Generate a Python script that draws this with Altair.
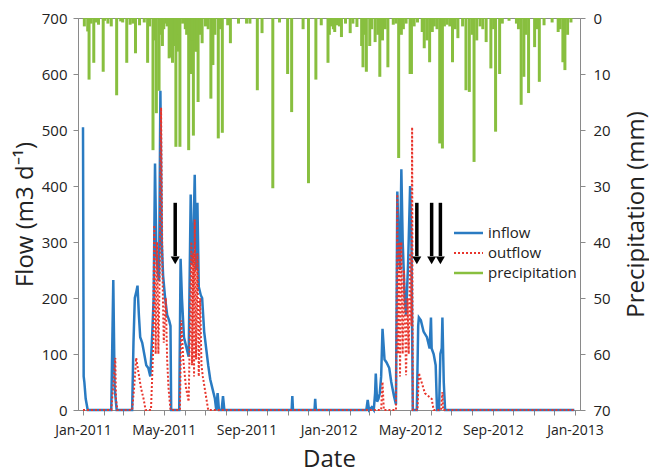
import altair as alt
import pandas as pd

# ---------------- data ----------------
inflow_dates = [
    "2011-01-01", "2011-01-02", "2011-01-03", "2011-01-05", "2011-01-08",
    "2011-02-12", "2011-02-15", "2011-02-17", "2011-02-20",
    "2011-03-15", "2011-03-17", "2011-03-19", "2011-03-21", "2011-03-23", "2011-03-25",
    "2011-03-27", "2011-03-30", "2011-04-02", "2011-04-05", "2011-04-08", "2011-04-11",
    "2011-04-14", "2011-04-16", "2011-04-18", "2011-04-20", "2011-04-22", "2011-04-24",
    "2011-04-26", "2011-04-28", "2011-04-30", "2011-05-03", "2011-05-06", "2011-05-09",
    "2011-05-11", "2011-05-12", "2011-05-24", "2011-05-26", "2011-05-28", "2011-05-31",
    "2011-06-04", "2011-06-07", "2011-06-10", "2011-06-12", "2011-06-14", "2011-06-16",
    "2011-06-18", "2011-06-20", "2011-06-22", "2011-06-25", "2011-06-27", "2011-06-30",
    "2011-07-03", "2011-07-06", "2011-07-09", "2011-07-12", "2011-07-16", "2011-07-18",
    "2011-07-20", "2011-07-22", "2011-07-26", "2011-07-28", "2011-07-30",
    "2011-11-07", "2011-11-08", "2011-11-09", "2011-12-11", "2011-12-12", "2011-12-13",
    "2012-02-26", "2012-02-28", "2012-03-01", "2012-03-05", "2012-03-08", "2012-03-10",
    "2012-03-11", "2012-03-13", "2012-03-15", "2012-03-17", "2012-03-19", "2012-03-21",
    "2012-03-24", "2012-03-27", "2012-03-31", "2012-04-03", "2012-04-07", "2012-04-10",
    "2012-04-12", "2012-04-14", "2012-04-16", "2012-04-18", "2012-04-20", "2012-04-23",
    "2012-04-25", "2012-04-28", "2012-05-01", "2012-05-03", "2012-05-05", "2012-05-11",
    "2012-05-13", "2012-05-14", "2012-05-17", "2012-05-21", "2012-05-26", "2012-05-30",
    "2012-06-01", "2012-06-02", "2012-06-05", "2012-06-08", "2012-06-10", "2012-06-13",
    "2012-06-15", "2012-06-17", "2012-06-18", "2012-06-20", "2012-06-22", "2012-12-31",
]
inflow_values = [
    505, 60, 50, 20, 0,
    0, 232, 40, 0,
    0, 120, 200, 210, 222, 170,
    130, 120, 100, 80, 75, 60,
    140, 200, 440, 280, 250, 230,
    570, 300, 240, 200, 170, 160,
    150, 0, 0, 270, 200, 130,
    110, 95, 385, 260, 300, 420,
    250, 370, 220, 205, 200, 140,
    110, 80, 55, 40, 20, 0,
    30, 0, 0, 25, 0,
    0, 25, 0, 0, 20, 0,
    0, 18, 0, 5, 0, 30,
    65, 15, 20, 30, 60, 145,
    90, 85, 75, 50, 25, 10,
    390, 300, 250, 430, 300, 200,
    170, 260, 400, 300, 0, 0,
    150, 165, 160, 140, 130, 110,
    165, 110, 100, 80, 0, 0,
    100, 110, 165, 50, 0, 0,
]

outflow_dates = [
    "2011-01-01", "2011-02-12", "2011-02-14", "2011-02-16", "2011-02-18", "2011-02-19",
    "2011-02-21", "2011-03-15", "2011-03-18", "2011-03-21", "2011-03-24", "2011-03-28",
    "2011-04-01", "2011-04-04", "2011-04-12", "2011-04-15", "2011-04-17", "2011-04-19",
    "2011-04-21", "2011-04-23", "2011-04-25", "2011-04-27", "2011-04-29", "2011-05-01",
    "2011-05-04", "2011-05-06", "2011-05-08", "2011-05-11", "2011-05-25", "2011-05-27",
    "2011-05-30", "2011-06-03", "2011-06-07", "2011-06-09", "2011-06-11", "2011-06-12",
    "2011-06-14", "2011-06-15", "2011-06-16", "2011-06-18", "2011-06-20", "2011-06-22",
    "2011-06-24", "2011-06-26", "2011-06-28", "2011-07-02", "2011-07-06",
    "2012-03-19", "2012-03-21", "2012-03-23", "2012-04-10", "2012-04-12", "2012-04-13",
    "2012-04-15", "2012-04-16", "2012-04-18", "2012-04-20", "2012-04-22", "2012-04-25",
    "2012-04-27", "2012-04-29", "2012-05-01", "2012-05-03", "2012-05-04", "2012-05-05",
    "2012-05-12", "2012-05-14", "2012-05-18", "2012-05-23", "2012-05-28", "2012-06-02",
    "2012-06-05", "2012-06-16", "2012-06-18", "2012-06-19", "2012-12-31",
]
outflow_values = [
    0, 0, 30, 60, 93, 20,
    0, 0, 40, 93, 70, 40,
    20, 0, 0, 100, 330, 100,
    300, 100, 250, 540, 250, 120,
    200, 90, 40, 0, 0, 160,
    90, 40, 15, 150, 300, 80,
    280, 60, 340, 90, 280, 60,
    200, 80, 60, 30, 0,
    0, 50, 0, 0, 385, 100,
    300, 60, 300, 100, 250, 62,
    200, 100, 280, 150, 505, 0,
    0, 66, 50, 30, 25, 20,
    0, 0, 32, 0, 0,
]

precip_dates = [
    "2011-01-03", "2011-01-08", "2011-01-10", "2011-01-13", "2011-01-17", "2011-01-24",
    "2011-01-31", "2011-02-07", "2011-02-12", "2011-02-20", "2011-03-01", "2011-03-07",
    "2011-03-12", "2011-03-16", "2011-03-20", "2011-03-26", "2011-04-02", "2011-04-07",
    "2011-04-15", "2011-04-17", "2011-04-20", "2011-04-24", "2011-04-29", "2011-05-03",
    "2011-05-06", "2011-05-09", "2011-05-12", "2011-05-14", "2011-05-16", "2011-05-19",
    "2011-05-22", "2011-05-25", "2011-05-29", "2011-06-02", "2011-06-04", "2011-06-07",
    "2011-06-10", "2011-06-14", "2011-06-17", "2011-06-21", "2011-06-24", "2011-06-27",
    "2011-07-02", "2011-07-06", "2011-07-10", "2011-07-13", "2011-07-21", "2011-07-27",
    "2011-08-04", "2011-08-08", "2011-08-20", "2011-09-01", "2011-09-06", "2011-09-17",
    "2011-09-24", "2011-10-10", "2011-10-20", "2011-11-01", "2011-11-07", "2011-11-24",
    "2011-12-02", "2011-12-13", "2011-12-21", "2011-12-31",
    "2012-01-05", "2012-01-10", "2012-01-14", "2012-01-20", "2012-01-26", "2012-02-02",
    "2012-02-12", "2012-02-19", "2012-02-21", "2012-02-26", "2012-03-02", "2012-03-10",
    "2012-03-17", "2012-03-21", "2012-03-29", "2012-04-06", "2012-04-14", "2012-04-18",
    "2012-04-25", "2012-05-01", "2012-05-03", "2012-05-12", "2012-05-22", "2012-05-26",
    "2012-05-30", "2012-06-03", "2012-06-06", "2012-06-14", "2012-06-18", "2012-06-25",
    "2012-06-29", "2012-07-03", "2012-07-11", "2012-07-23", "2012-07-28", "2012-08-04",
    "2012-08-08", "2012-08-13", "2012-08-22", "2012-08-29", "2012-09-05", "2012-09-11",
    "2012-09-15", "2012-09-25", "2012-10-06", "2012-10-13", "2012-10-17", "2012-10-24",
    "2012-11-02", "2012-11-09", "2012-11-16", "2012-11-28", "2012-12-07", "2012-12-14",
    "2012-12-17", "2012-12-26",
    # smaller showers
    "2011-01-20", "2011-02-02", "2011-02-26", "2011-04-10", "2011-04-26", "2011-05-01",
    "2011-05-18", "2011-05-24", "2011-06-12", "2011-06-19", "2011-07-16", "2011-07-24",
    "2012-01-02", "2012-01-08", "2012-01-17", "2012-02-06", "2012-02-24", "2012-03-05",
    "2012-03-14", "2012-03-25", "2012-04-10", "2012-04-21", "2012-05-07", "2012-05-19",
    "2012-06-10", "2012-06-21", "2012-07-07", "2012-07-18", "2012-08-01", "2012-08-17",
    "2012-09-02", "2012-10-09", "2012-10-20", "2012-11-05", "2012-12-10", "2012-12-21",
]
precip_values = [
    1.5, 2.4, 11, 1.0, 8, 1.2,
    9.6, 1.0, 1.5, 13.8, 0.8, 8,
    1.2, 1.0, 6.3, 1.3, 0.8, 8,
    23.6, 4, 17, 13, 5, 1.0,
    1.5, 7.2, 7, 8, 4, 23,
    6, 23, 1.0, 2, 3, 23.6,
    10, 21, 6, 15, 3, 4.5,
    1.5, 2, 14.4, 8.4, 21.5, 20.5,
    1.3, 4.5, 1.0, 1.0, 1.0, 12.9,
    2.7, 30.4, 0.8, 10, 16.8, 2,
    29.5, 11, 1.3, 8,
    1.5, 2.5, 1.3, 3.4, 1.0, 2.7,
    1.6, 5, 8.8, 9.6, 5, 4.3,
    10.5, 4, 8.8, 1.2, 25, 3,
    1, 10, 10, 0.8, 5.4, 4,
    7.9, 2.5, 1.5, 22.4, 23.3, 1.2,
    1.5, 7.9, 3.6, 12.9, 13.2, 25.7,
    4, 1.5, 4.3, 9, 20.3, 10,
    1.0, 0.5, 1.0, 15.5, 10.5, 13.4,
    5.2, 11.4, 1.3, 0.8, 2.5, 7.9,
    9.3, 0.8,
    0.8, 0.5, 0.6, 1.5, 3, 2,
    5, 3, 4, 6, 3, 2,
    3, 2, 1.5, 1, 3, 2,
    3, 2, 1, 2, 1.5, 2.5,
    2, 1.5, 2, 1.5, 3, 2,
    2, 2, 3, 2, 2, 3,
]

arrow_dates = ["2011-05-18", "2012-05-11", "2012-06-02", "2012-06-15"]
arrow_top = [370, 370, 370, 370]
arrow_end = [275, 275, 275, 275]
arrow_head = [267, 267, 267, 267]

legend_labels = ["inflow", "outflow", "precipitation"]
series_colors = ["#2a7bc2", "#e8352c", "#88bf3f"]

# ---------------- frames ----------------
inflow_df = pd.DataFrame({"date": pd.to_datetime(inflow_dates), "flow": inflow_values})
outflow_df = pd.DataFrame({"date": pd.to_datetime(outflow_dates), "flow": outflow_values})
precip_df = pd.DataFrame({"date": pd.to_datetime(precip_dates), "mm": precip_values})
arrow_df = pd.DataFrame({"date": pd.to_datetime(arrow_dates), "top": arrow_top,
                         "end": arrow_end, "head": arrow_head})

FONT = "Open Sans"
TXT = "#222222"
AX = "#8a8a8a"

month_vals = [alt.DateTime(year=2011 + (m // 12), month=(m % 12) + 1, date=1) for m in range(25)]
xscale = alt.Scale(domain=[alt.DateTime(year=2011, month=1, date=1),
                           alt.DateTime(year=2013, month=1, date=1)], nice=False)
xaxis = alt.Axis(
    title="Date", values=month_vals,
    labelExpr="month(datum.value) % 4 == 0 ? timeFormat(datum.value, '%b-%Y') : ''",
    labelOverlap=False, grid=False, tickSize=5, labelPadding=8,
    labelFontSize=14, titleFontSize=24, titlePadding=10,
)
flow_scale = alt.Scale(domain=[0, 700], nice=False)
flow_axis = alt.Axis(title="Flow (m3 d\u207B\u00B9)", orient="left", values=list(range(0, 701, 100)),
                     grid=False, tickSize=5, labelPadding=6, labelFontSize=15,
                     titleFontSize=24, titlePadding=4)
precip_axis = alt.Axis(title="Precipitation (mm)", orient="right", values=list(range(0, 71, 10)),
                       grid=False, tickSize=5, labelPadding=8, labelFontSize=15,
                       titleFontSize=24, titlePadding=14, titleAngle=270, titleBaseline="top")

X = alt.X("date:T", scale=xscale, axis=xaxis)

bars = alt.Chart(precip_df).mark_bar(color=series_colors[2], width=3).encode(
    x=X,
    y=alt.Y("mm:Q", scale=alt.Scale(domain=[0, 70], reverse=True, nice=False), axis=precip_axis),
)

inflow = alt.Chart(inflow_df).mark_line(color=series_colors[0], strokeWidth=2.5).encode(
    x=X, y=alt.Y("flow:Q", scale=flow_scale, axis=flow_axis))
outflow = alt.Chart(outflow_df).mark_line(color=series_colors[1], strokeWidth=2,
                                          strokeDash=[2, 2]).encode(
    x=X, y=alt.Y("flow:Q", scale=flow_scale, axis=flow_axis))
arrows = alt.Chart(arrow_df).mark_rule(color="black", strokeWidth=3.5).encode(
    x=X, y=alt.Y("top:Q", scale=flow_scale, axis=flow_axis), y2="end:Q")
heads = alt.Chart(arrow_df).mark_point(shape="triangle-down", filled=True, size=80,
                                       color="black", opacity=1).encode(
    x=X, y=alt.Y("head:Q", scale=flow_scale, axis=flow_axis))

flow_layer = alt.layer(inflow, outflow, arrows, heads)

# manual legend
leg_layers = []
for i, (lab, col) in enumerate(zip(legend_labels, series_colors)):
    ypix = 215 + 20 * i
    d = pd.DataFrame({"t": [lab]})
    kw = dict(color=col, strokeWidth=2.5 if i != 1 else 2)
    if i == 1:
        kw["strokeDash"] = [2, 2]
    leg_layers.append(alt.Chart(d).mark_rule(**kw).encode(
        x=alt.value(376), x2=alt.value(405), y=alt.value(ypix)))
    leg_layers.append(alt.Chart(d).mark_text(align="left", baseline="middle", fontSize=15,
                                             color=TXT, font=FONT).encode(
        x=alt.value(410), y=alt.value(ypix), text="t:N"))

chart = alt.layer(bars, flow_layer, *leg_layers).resolve_scale(y="independent").properties(
    width=502, height=392,
    padding={"left": 5, "top": 3, "right": 0, "bottom": 0},
).configure_view(stroke=AX).configure_axis(
    domainColor=AX, tickColor=AX, labelColor=TXT, titleColor=TXT,
    labelFont=FONT, titleFont=FONT, titleFontWeight="normal",
)

chart.save("out.html", embed_options={"renderer": "svg", "actions": False})
